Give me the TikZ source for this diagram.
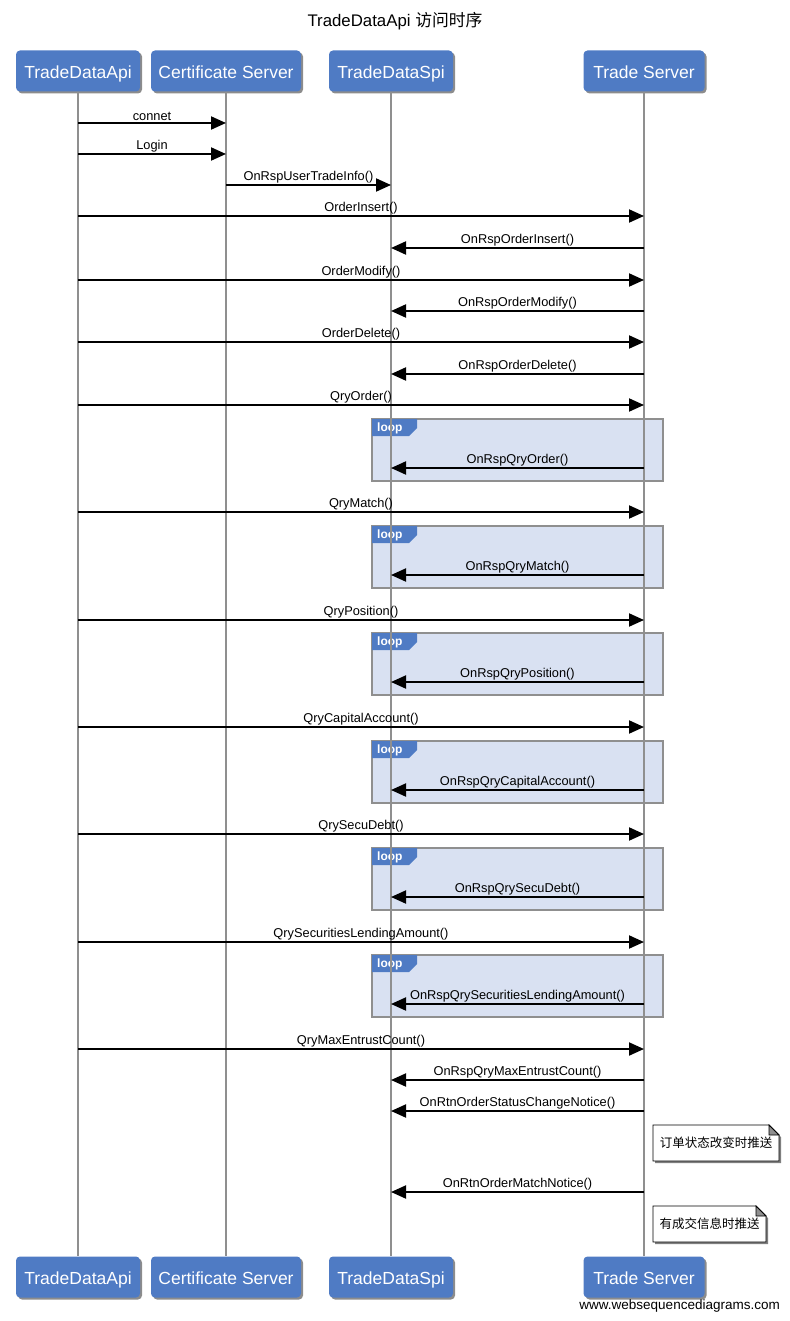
\documentclass[tikz,border=0pt]{standalone}
\usepackage{fontspec}
\setmainfont{Liberation Sans}
\newfontfamily\cjk{Noto Sans CJK SC}
\usetikzlibrary{arrows.meta,shadows}
\definecolor{pblue}{HTML}{4F7BC4}
\definecolor{loopfill}{HTML}{D9E1F2}
\definecolor{lgray}{HTML}{8F8F8F}
\begin{document}
\begin{tikzpicture}[x=1pt,y=-1pt,
  part/.style={rectangle, rounded corners=4pt, fill=pblue, text=white,
    font=\fontsize{17.5}{20}\selectfont, minimum height=41pt, inner sep=0pt,
    text height=14.5pt, text depth=0pt,
    drop shadow={shadow xshift=2pt, shadow yshift=-2pt, fill=black, opacity=0.45}},
  life/.style={draw=lgray, line width=2pt},
  msg/.style={line width=2pt, -{Triangle[length=15pt,width=13pt]}},
  lbl/.style={font=\fontsize{12.8}{14}\selectfont, inner sep=1pt, above},
  loopbox/.style={fill=loopfill, draw=lgray, line width=2pt},
  looptag/.style={fill=pblue},
  looptext/.style={text=white, font=\bfseries\fontsize{12}{13}\selectfont, inner sep=0pt},
  notebox/.style={fill=white, draw=black, line width=0.8pt,
    drop shadow={shadow xshift=2pt, shadow yshift=-2pt, fill=black, opacity=0.5}},
  notetext/.style={font=\cjk\fontsize{12.5}{14}\selectfont, inner sep=0pt}
]
\useasboundingbox (0,0) rectangle (789,1321);

% title
\node[font=\fontsize{16.8}{19}\selectfont] (title) at (395,21) {TradeDataApi {\cjk 访问时序}};

% loop blocks
\foreach \t/\b in {419/481,526/588,633/695,741/803,848/910,955/1017}{
  \path[loopbox] (372,\t) rectangle (663,\b);
  \path[looptag] (372,\t) -- ++(45,0) -- ++(0,9) -- ++(-8,8) -- ++(-37,0) -- cycle;
  \node[looptext, anchor=west] at (377,\t+9) {loop};
}

% participants
\node[part, minimum width=124pt] (api)  at (78,71)  {TradeDataApi};
\node[part, minimum width=150pt] (cert) at (226,71) {Certificate Server};
\node[part, minimum width=124pt] (spi)  at (391,71) {TradeDataSpi};
\node[part, minimum width=121pt] (ts)   at (644,71) {Trade Server};
\node[part, minimum width=124pt] (apib)  at (78,1277)  {TradeDataApi};
\node[part, minimum width=150pt] (certb) at (226,1277) {Certificate Server};
\node[part, minimum width=124pt] (spib)  at (391,1277) {TradeDataSpi};
\node[part, minimum width=121pt] (tsb)   at (644,1277) {Trade Server};

% lifelines
\draw[life] (api.south) -- (apib.north);
\draw[life] (cert.south) -- (certb.north);
\draw[life] (spi.south) -- (spib.north);
\draw[life] (ts.south) -- (tsb.north);

% messages
\foreach \a/\b/\y/\t in {
  api/cert/123/connet,
  api/cert/154/Login,
  cert/spi/185/OnRspUserTradeInfo(),
  api/ts/216/OrderInsert(),
  ts/spi/248/OnRspOrderInsert(),
  api/ts/280/OrderModify(),
  ts/spi/311/OnRspOrderModify(),
  api/ts/342/OrderDelete(),
  ts/spi/374/OnRspOrderDelete(),
  api/ts/405/QryOrder(),
  ts/spi/468/OnRspQryOrder(),
  api/ts/512/QryMatch(),
  ts/spi/575/OnRspQryMatch(),
  api/ts/620/QryPosition(),
  ts/spi/682/OnRspQryPosition(),
  api/ts/727/QryCapitalAccount(),
  ts/spi/790/OnRspQryCapitalAccount(),
  api/ts/834/QrySecuDebt(),
  ts/spi/897/OnRspQrySecuDebt(),
  api/ts/942/QrySecuritiesLendingAmount(),
  ts/spi/1004/OnRspQrySecuritiesLendingAmount(),
  api/ts/1049/QryMaxEntrustCount(),
  ts/spi/1080/OnRspQryMaxEntrustCount(),
  ts/spi/1111/OnRtnOrderStatusChangeNotice(),
  ts/spi/1192/OnRtnOrderMatchNotice()}{
  \draw[msg] (\a.south |- 0,\y) -- node[lbl]{\t} (\b.south |- 0,\y);
}

% notes
\path[notebox] (653,1125) -- (769,1125) -- (779,1135) -- (779,1161) -- (653,1161) -- cycle;
\draw[line width=0.8pt, fill=lgray] (769,1125) -- (769,1135) -- (779,1135) -- cycle;
\node[notetext] (n1) at (716,1143) {订单状态改变时推送};
\path[notebox] (653,1206) -- (756,1206) -- (766,1216) -- (766,1242) -- (653,1242) -- cycle;
\draw[line width=0.8pt, fill=lgray] (756,1206) -- (756,1216) -- (766,1216) -- cycle;
\node[notetext] (n2) at (709.5,1224) {有成交信息时推送};

% footer
\node[anchor=east, font=\fontsize{13.5}{16}\selectfont, inner sep=0pt] (wm) at (780,1306) {www.websequencediagrams.com};
\end{tikzpicture}
\end{document}
